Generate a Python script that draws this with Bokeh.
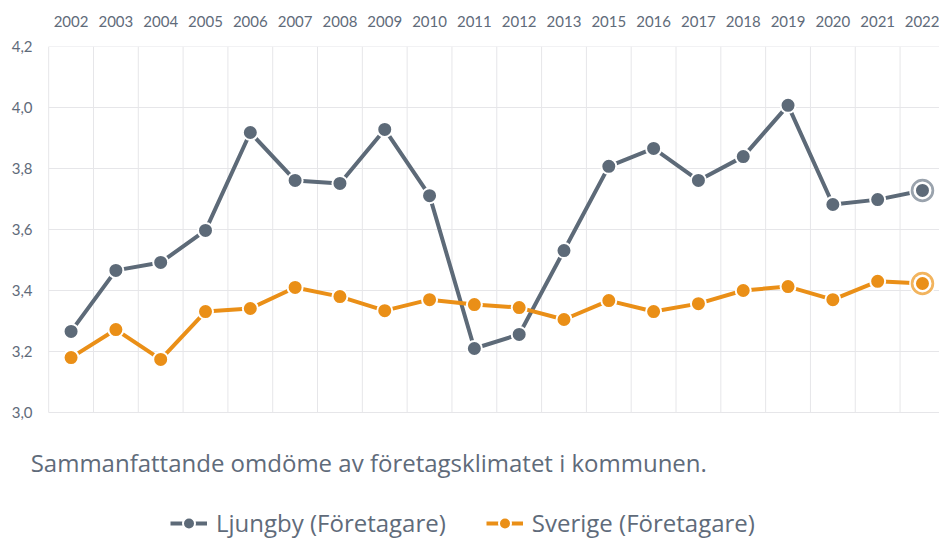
from bokeh.plotting import figure
from bokeh.models import FixedTicker, Label, Legend, LegendItem, Range1d, ColumnDataSource
from bokeh.embed import file_html
from bokeh.resources import INLINE

years = ["2002", "2003", "2004", "2005", "2006", "2007", "2008", "2009", "2010", "2011",
         "2012", "2013", "2015", "2016", "2017", "2018", "2019", "2020", "2021", "2022"]
ljungby = [3.266, 3.466, 3.492, 3.597, 3.918, 3.761, 3.751, 3.928, 3.711, 3.210,
           3.256, 3.531, 3.807, 3.866, 3.761, 3.839, 4.007, 3.682, 3.698, 3.728]
sverige = [3.180, 3.272, 3.174, 3.331, 3.341, 3.410, 3.380, 3.334, 3.370, 3.354,
           3.344, 3.305, 3.367, 3.331, 3.357, 3.400, 3.413, 3.370, 3.430, 3.423]
y_ticks = [3.0, 3.2, 3.4, 3.6, 3.8, 4.0, 4.2]
y_labels = ["3,0", "3,2", "3,4", "3,6", "3,8", "4,0", "4,2"]
caption = "Sammanfattande omdöme av företagsklimatet i kommunen."
names = ["Ljungby (Företagare)", "Sverige (Företagare)"]

GRAY = "#5d6a78"
GRAY_L = "#9aa3ad"
ORANGE = "#ea8f17"
ORANGE_L = "#f2b45e"
TXT = "#5f6b7a"
GRID = "#e6e6e9"
FONT = "Lato"
FONT2 = "Open Sans"

x = list(range(len(years)))
n = len(years)
ymin, ymax = y_ticks[0], y_ticks[-1]
xlo, xhi = -0.5, n - 0.5

p = figure(width=939, height=538, output_backend="svg", toolbar_location=None,
           x_axis_location="above",
           x_range=Range1d(-0.95, n - 0.62), y_range=Range1d(2.587, ymax),
           min_border_left=28, min_border_right=0, min_border_top=46, min_border_bottom=0,
           outline_line_color=None)

# axes
p.xaxis.ticker = FixedTicker(ticks=x)
p.xaxis.major_label_overrides = {i: y for i, y in enumerate(years)}
p.yaxis.ticker = FixedTicker(ticks=y_ticks)
p.yaxis.major_label_overrides = {t: l for t, l in zip(y_ticks, y_labels)}
for ax in (p.xaxis[0], p.yaxis[0]):
    ax.axis_line_color = None
    ax.major_tick_line_color = None
    ax.minor_tick_line_color = None
    ax.major_tick_out = 0
    ax.major_label_text_color = TXT
    ax.major_label_text_font = FONT
    ax.major_label_text_font_size = "15px"
p.xaxis.major_label_standoff = 20
p.yaxis.major_label_standoff = -4

p.xgrid.grid_line_color = None
p.ygrid.grid_line_color = None

# grid lines limited to the plot area (category boundaries / value ticks)
bounds = [i - 0.5 for i in range(n + 1)]
p.segment(x0=bounds, y0=[ymin] * len(bounds), x1=bounds, y1=[ymax] * len(bounds),
          line_color=GRID, line_width=1)
p.segment(x0=[xlo] * len(y_ticks), y0=y_ticks, x1=[xhi] * len(y_ticks), y1=y_ticks,
          line_color=GRID, line_width=1)

src_l = ColumnDataSource(dict(x=x, y=ljungby))
src_s = ColumnDataSource(dict(x=x, y=sverige))

items = []
for src, vals, col, coll, name in ((src_l, ljungby, GRAY, GRAY_L, names[0]),
                                   (src_s, sverige, ORANGE, ORANGE_L, names[1])):
    ln = p.line("x", "y", source=src, line_color=col, line_width=4)
    sc = p.scatter("x", "y", source=src, size=15, fill_color=col, line_color="white", line_width=2)
    last = ColumnDataSource(dict(x=[x[-1]], y=[vals[-1]]))
    p.scatter("x", "y", source=last, size=25, fill_color=coll, line_color="white", line_width=1.5)
    p.scatter("x", "y", source=last, size=18, fill_color="white", line_color=None)
    p.scatter("x", "y", source=last, size=13, fill_color=col, line_color=None)
    items.append(LegendItem(label=name, renderers=[ln, sc]))

lab = Label(x=xlo, y=ymin, x_offset=-18, y_offset=-50, text=caption,
            text_font=FONT2, text_font_size="24px", text_color=TXT, text_baseline="middle")
p.add_layout(lab)

leg = Legend(items=items, orientation="horizontal", location=(142, -1),
             label_text_font=FONT2, label_text_font_size="24px", label_text_color=TXT,
             border_line_color=None, background_fill_alpha=0, spacing=40,
             glyph_width=37, glyph_height=30, label_standoff=9, margin=0, padding=0)
p.add_layout(leg, "center")

open("out.html", "w").write(file_html(p, INLINE))
